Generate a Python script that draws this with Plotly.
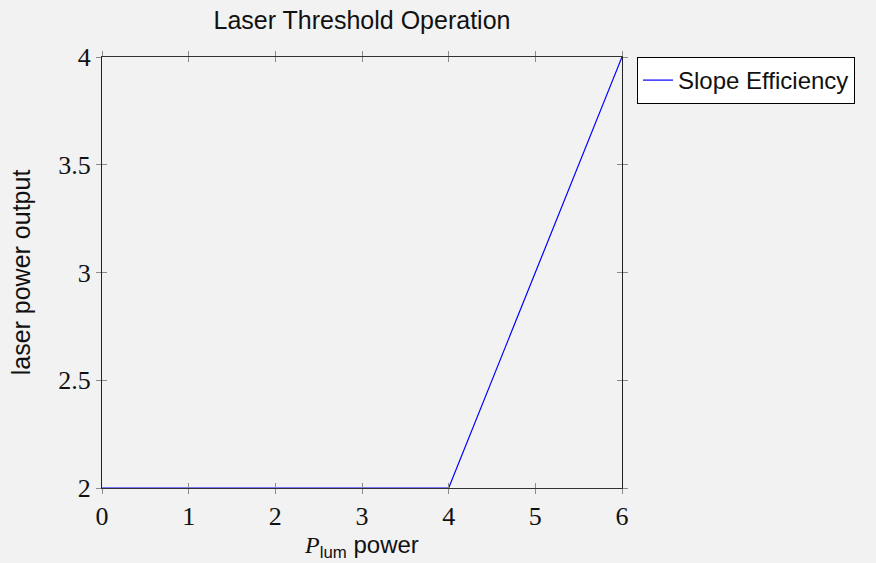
import plotly.graph_objects as go

# Data
pump_power = [0, 4, 6]
laser_output = [2, 2, 4]
series_name = "Slope Efficiency"
x_ticks = [0, 1, 2, 3, 4, 5, 6]
y_ticks = [2, 2.5, 3, 3.5, 4]
y_tick_labels = ["2", "2.5", "3", "3.5", "4"]

W, H = 876, 563
L, R, T, B = 102, 254, 57, 75
pw, ph = W - L - R, H - T - B

BG = "#f2f2f2"
SANS = "Liberation Sans"
SERIF = "Liberation Serif"
TICKC = "#8c8c8c"

fig = go.Figure()
fig.add_trace(go.Scatter(
    x=pump_power, y=laser_output, mode="lines", name=series_name,
    line=dict(color="#0000ff", width=1.2),
))
# helper trace so the overlay axes (inner ticks) are drawn
fig.add_trace(go.Scatter(x=[None], y=[None], xaxis="x2", yaxis="y2",
                         showlegend=False, hoverinfo="skip"))

common_tick = dict(ticklen=5, tickwidth=1, tickcolor=TICKC, showgrid=False,
                   zeroline=False)

fig.update_layout(
    width=W, height=H,
    margin=dict(l=L, r=R, t=T, b=B, autoexpand=False),
    paper_bgcolor=BG, plot_bgcolor=BG,
    title=dict(text="Laser Threshold Operation", x=(L + pw / 2) / W, xanchor="center",
               xref="container", yref="container", y=1 - 20 / H, yanchor="middle",
               font=dict(family=SANS, size=25, color="#111")),
    xaxis=dict(range=[0, 6], tickvals=x_ticks, ticktext=[str(v) for v in x_ticks],
               ticks="outside", showline=True, linecolor="#333", linewidth=1,
               mirror="ticks", tickfont=dict(family=SERIF, size=26, color="#111"),
               title=dict(text="<span style='font-family:Liberation Serif'><i>P</i></span><sub>lum</sub> power",
                          font=dict(family=SANS, size=24, color="#111"), standoff=2),
               **common_tick),
    yaxis=dict(range=[2, 4], tickvals=y_ticks, ticktext=y_tick_labels,
               ticks="outside", showline=True, linecolor="#222", linewidth=1,
               mirror="ticks", tickfont=dict(family=SERIF, size=26, color="#111"),
               title=dict(text="laser power output",
                          font=dict(family=SANS, size=25, color="#111"), standoff=20),
               **common_tick),
    xaxis2=dict(range=[0, 6], overlaying="x", tickvals=x_ticks, ticks="inside",
                showticklabels=False, mirror="ticks", showline=False, **common_tick),
    yaxis2=dict(range=[2, 4], overlaying="y", tickvals=y_ticks, ticks="inside",
                showticklabels=False, mirror="ticks", showline=False, **common_tick),
    legend=dict(x=(637 - L) / pw, xanchor="left", y=1, yanchor="top",
                bgcolor="white", bordercolor="black", borderwidth=1,
                entrywidth=205, entrywidthmode="pixels",
                font=dict(family=SANS, size=24, color="#111")),
    showlegend=True,
)

fig.write_html("out.html", config={"displayModeBar": False},
               post_script="document.body.style.margin='0';document.body.style.overflow='hidden';")
